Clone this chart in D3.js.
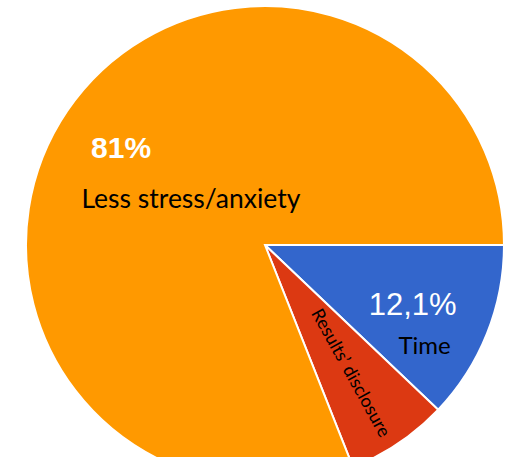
<!DOCTYPE html>
<html>
<head>
<meta charset="utf-8">
<script src="https://cdn.jsdelivr.net/npm/d3@7"></script>
<style>
  body { margin: 0; background: #fff; }
  svg { display: block; }
</style>
</head>
<body>
<div id="chart"></div>
<script>
// data
var categories = ['Time', 'Results\u2019 disclosure', 'Less stress/anxiety']
var values = [12.1, 6.9, 81]
var pctLabels = ['12,1%', '', '81%']
var colors = ['#3366cc', '#dc3912', '#ff9900']

var width = 508, height = 457
var cx = 265, cy = 245, radius = 239

var svg = d3.select('#chart')
  .append('svg')
  .attr('width', width)
  .attr('height', height)

var g = svg.append('g')
  .attr('transform', 'translate(' + cx + ',' + cy + ')')

// start at 3 o'clock, go clockwise
var pie = d3.pie()
  .sort(null)
  .startAngle(Math.PI / 2)
  .endAngle(Math.PI / 2 + 2 * Math.PI)
  .value(function (d) { return d })

var arcs = pie(values)
var arc = d3.arc().innerRadius(0).outerRadius(radius)

g.selectAll('path')
  .data(arcs)
  .enter()
  .append('path')
  .attr('d', arc)
  .attr('fill', function (d, i) { return colors[i] })
  .attr('stroke', '#fff')
  .attr('stroke-width', 2)

// point on the bisector of a slice at radius r
function onMid(d, r) {
  var a = (d.startAngle + d.endAngle) / 2
  return [Math.sin(a) * r, -Math.cos(a) * r]
}

// Time
var pT = onMid(arcs[0], 159)
g.append('text')
  .attr('x', pT[0]).attr('y', pT[1] + 11)
  .attr('text-anchor', 'middle')
  .attr('font-family', 'Liberation Sans, Arial, sans-serif')
  .attr('font-size', 31)
  .attr('fill', '#fff')
  .text(pctLabels[0])
g.append('text')
  .attr('x', pT[0] + 12).attr('y', pT[1] + 50)
  .attr('text-anchor', 'middle')
  .attr('font-family', 'Lato, sans-serif')
  .attr('font-size', 24)
  .attr('fill', '#000')
  .text(categories[0])

// Results' disclosure, rotated along the thin slice
var pR = onMid(arcs[1], 154)
g.append('text')
  .attr('transform', 'translate(' + pR[0] + ',' + pR[1] + ') rotate(61)')
  .attr('text-anchor', 'middle')
  .attr('dy', '0.35em')
  .attr('font-family', 'Lato, sans-serif')
  .attr('font-size', 18)
  .attr('fill', '#000')
  .text(categories[1])

// Less stress/anxiety
var pL = onMid(arcs[2], 174)
g.append('text')
  .attr('x', pL[0]).attr('y', pL[1] + 11)
  .attr('text-anchor', 'middle')
  .attr('font-family', 'Liberation Sans, Arial, sans-serif')
  .attr('font-size', 30)
  .attr('font-weight', 'bold')
  .attr('fill', '#fff')
  .text(pctLabels[2])
var pL2 = onMid(arcs[2], 86)
g.append('text')
  .attr('x', pL2[0] - 3).attr('y', pL2[1] + 11)
  .attr('text-anchor', 'middle')
  .attr('font-family', 'Lato, sans-serif')
  .attr('font-size', 26.5)
  .attr('fill', '#000')
  .text(categories[2])
</script>
</body>
</html>
